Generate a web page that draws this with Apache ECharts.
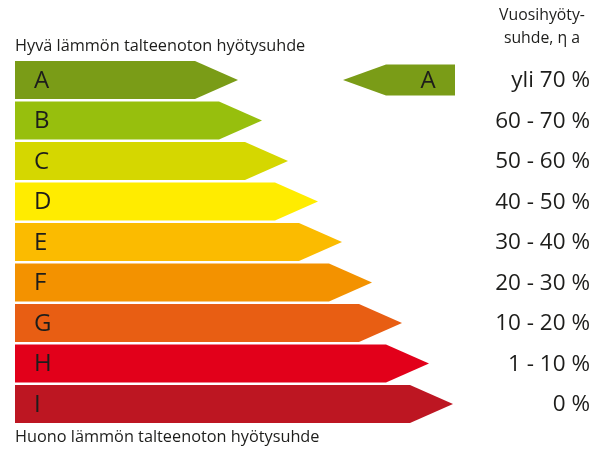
<!DOCTYPE html>
<html>
<head>
<meta charset="utf-8">
<script src="https://cdn.jsdelivr.net/npm/echarts@6/dist/echarts.min.js"></script>
<style>html,body{margin:0;padding:0;background:#fff}#c{width:603px;height:450px}</style>
</head>
<body>
<div id="c"></div>
<script>
// ---- data ----
const classes = ['A', 'B', 'C', 'D', 'E', 'F', 'G', 'H', 'I'];
const arrowLengths = [223, 247, 273, 303, 327, 357, 387, 414, 438];
const rangeLabels = ['yli 70 %', '60 - 70 %', '50 - 60 %', '40 - 50 %', '30 - 40 %', '20 - 30 %', '10 - 20 %', '1 - 10 %', '0 %'];
const classColors = ['#7a9c17', '#97bf0d', '#d5d700', '#ffec00', '#fbbb00', '#f39200', '#e85e13', '#e2001a', '#bd1622'];
const ratedClass = 'A';
const ratingMarker = [328, 440]; // tip, end on x scale
const topText = 'Hyvä lämmön talteenoton hyötysuhde';
const bottomText = 'Huono lämmön talteenoton hyötysuhde';
const headerLines = ['Vuosihyöty-', 'suhde, η a'];

const FONT = '"Open Sans", "Noto Sans", sans-serif';
const TXT = '#1d1d1b';
const TIP = 43;

const chart = echarts.init(document.getElementById('c'), null, {renderer: 'canvas'});

const barData = classes.map((c, i) => [i, arrowLengths[i]]);
const ri = classes.indexOf(ratedClass);

chart.setOption({
  animation: false,
  backgroundColor: '#fff',
  grid: {left: 15, right: 0, top: 59.75, height: 364.5},
  xAxis: {type: 'value', min: 0, max: 588, show: false},
  yAxis: {type: 'category', data: classes, inverse: true, show: false},
  graphic: [
    {type: 'text', left: 15, top: 38.5, style: {text: topText, font: '16.3px ' + FONT, fill: TXT}},
    {type: 'text', left: 15, top: 429.5, style: {text: bottomText, font: '16.3px ' + FONT, fill: TXT}},
    {type: 'text', x: 542, y: 4, style: {text: headerLines.join('\n'), font: '15.8px ' + FONT, fill: TXT, align: 'center', lineHeight: 23}}
  ],
  series: [
    {
      type: 'custom',
      data: barData,
      encode: {x: 1, y: 0},
      renderItem: function (params, api) {
        const idx = api.value(0);
        const start = api.coord([0, idx]);
        const end = api.coord([api.value(1), idx]);
        const band = api.size([0, 1])[1];
        const h = band * 0.935;
        const top = start[1] - h / 2, bot = start[1] + h / 2;
        return {
          type: 'group',
          children: [
            {
              type: 'polygon',
              shape: {points: [[start[0], top], [end[0] - TIP, top], [end[0], start[1]], [end[0] - TIP, bot], [start[0], bot]]},
              style: {fill: classColors[idx]}
            },
            {
              type: 'text',
              style: {text: classes[idx], x: start[0] + 19, y: start[1] + 1, font: '24px ' + FONT, fill: TXT, verticalAlign: 'middle', align: 'left'}
            },
            {
              type: 'text',
              style: {text: rangeLabels[idx], x: api.getWidth() - 13, y: start[1] + 1, font: '22.5px ' + FONT, fill: TXT, verticalAlign: 'middle', align: 'right'}
            }
          ]
        };
      }
    },
    {
      type: 'custom',
      data: [[ri, ratingMarker[0], ratingMarker[1]]],
      encode: {x: [1, 2], y: 0},
      renderItem: function (params, api) {
        const idx = api.value(0);
        const tip = api.coord([api.value(1), idx]);
        const end = api.coord([api.value(2), idx]);
        const h = 31;
        const top = tip[1] - h / 2, bot = tip[1] + h / 2;
        return {
          type: 'group',
          children: [
            {
              type: 'polygon',
              shape: {points: [[tip[0], tip[1]], [tip[0] + TIP, top], [end[0], top], [end[0], bot], [tip[0] + TIP, bot]]},
              style: {fill: classColors[idx]}
            },
            {
              type: 'text',
              style: {text: ratedClass, x: end[0] - 27, y: tip[1] + 1, font: '24px ' + FONT, fill: TXT, verticalAlign: 'middle', align: 'center'}
            }
          ]
        };
      }
    }
  ]
});
</script>
</body>
</html>
